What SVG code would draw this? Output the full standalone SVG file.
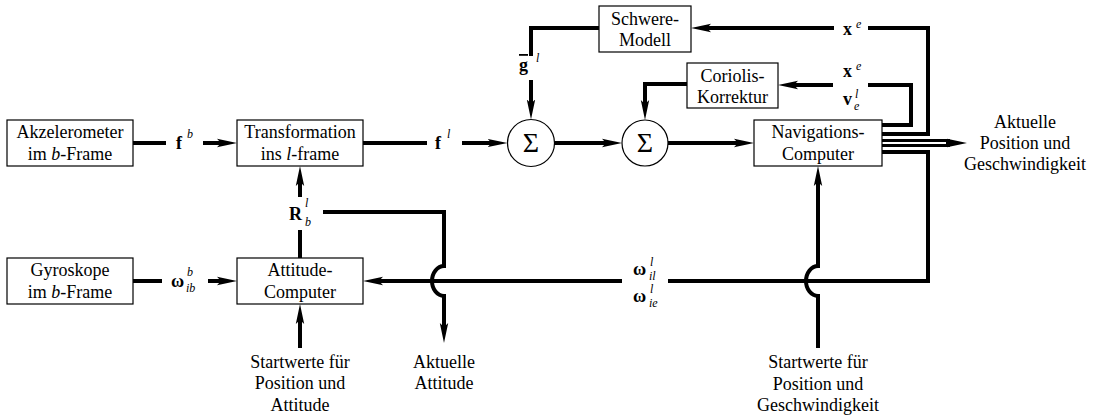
<svg xmlns="http://www.w3.org/2000/svg" width="1100" height="418" viewBox="0 0 1100 418">
<defs>
<marker id="arr" viewBox="0 0 20 10" markerWidth="20" markerHeight="10" markerUnits="userSpaceOnUse" refX="8" refY="5" orient="auto">
<path d="M0,0.8 L20,5 L0,9.2 L4,5 z" fill="#000"/>
</marker>
<style>
.box{fill:#fff;stroke:#000;stroke-width:1.2}
.sum{fill:#fff;stroke:#000;stroke-width:1.2}
.w{fill:none;stroke:#000;stroke-width:4;stroke-linejoin:miter}
.t{fill:none;stroke:#000;stroke-width:3}
.a{marker-end:url(#arr)}
.c{text-anchor:middle}
.b{font-weight:bold}
.i{font-style:italic;font-size:12px}
.it{font-style:italic}
.s{font-size:28px}
</style>
</defs>
<rect width="1100" height="418" fill="#fff"/>
<g id="connectors">
<path class="w" d="M133,143 H166"/>
<path class="w a" d="M203,143 H225"/>
<path class="w" d="M363,143 H427"/>
<path class="w a" d="M462,143 H495.5"/>
<path class="w a" d="M554.5,143 H610"/>
<path class="w a" d="M668,143 H742"/>
<path class="w" d="M599,28 H531 V56"/>
<path class="w a" d="M531,80 V107.5"/>
<path class="w a" d="M687,84 H645 V108"/>
<path class="w" d="M882,134 H928 V28 H868"/>
<path class="w a" d="M834,28 H703"/>
<path class="w" d="M882,125 H911 V85 H868"/>
<path class="w a" d="M833,85 H790"/>
<path class="t" d="M882,140.5 H950"/>
<path class="t" d="M882,145.5 H950"/>
<path class="w a" d="M946,143 H955"/>
<path class="w" d="M882,152 H928 V281 H668"/>
<path class="w a" d="M622,281 H375"/>
<path class="w a" d="M818,348 V296 A12,15 0 0 1 818,266 V178"/>
<path class="w a" d="M323,212 H444 V266 A12,15 0 0 0 444,296 V331"/>
<path class="w a" d="M300,197 V178"/>
<path class="w" d="M300,258 V230"/>
<path class="w" d="M133,281 H162"/>
<path class="w a" d="M208,281 H225"/>
<path class="w a" d="M300,348 V316"/>
</g>
<g id="labels">
<text font-family="Liberation Serif" font-size="18" x="176" y="149" class="b">f</text><text font-family="Liberation Serif" font-size="12" x="187" y="138" class="i">b</text>
<text font-family="Liberation Serif" font-size="18" x="435" y="149" class="b">f</text><text font-family="Liberation Serif" font-size="12" x="447" y="138" class="i">l</text>
<text font-family="Liberation Serif" font-size="18" x="519" y="71" class="b" text-decoration="overline">g</text><text font-family="Liberation Serif" font-size="12" x="536" y="62" class="i">l</text>
<text font-family="Liberation Serif" font-size="18" x="289" y="220" class="b">R</text><text font-family="Liberation Serif" font-size="12" x="305" y="207" class="i">l</text><text font-family="Liberation Serif" font-size="12" x="305" y="226" class="i">b</text>
<text font-family="Liberation Serif" font-size="18" x="171" y="287" class="b">ω</text><text font-family="Liberation Serif" font-size="12" x="187" y="276" class="i">b</text><text font-family="Liberation Serif" font-size="12" x="186" y="292" class="i">ib</text>
<text font-family="Liberation Serif" font-size="18" x="633" y="275" class="b">ω</text><text font-family="Liberation Serif" font-size="12" x="650" y="266" class="i">l</text><text font-family="Liberation Serif" font-size="12" x="649" y="280" class="i">il</text>
<text font-family="Liberation Serif" font-size="18" x="633" y="302" class="b">ω</text><text font-family="Liberation Serif" font-size="12" x="650" y="293" class="i">l</text><text font-family="Liberation Serif" font-size="12" x="649" y="307" class="i">ie</text>
<text font-family="Liberation Serif" font-size="18" x="843" y="35" class="b">x</text><text font-family="Liberation Serif" font-size="12" x="856" y="28" class="i">e</text>
<text font-family="Liberation Serif" font-size="18" x="843" y="77" class="b">x</text><text font-family="Liberation Serif" font-size="12" x="856" y="70" class="i">e</text>
<text font-family="Liberation Serif" font-size="18" x="843" y="105" class="b">v</text><text font-family="Liberation Serif" font-size="12" x="855" y="98" class="i">l</text><text font-family="Liberation Serif" font-size="12" x="854" y="110" class="i">e</text>
<text font-family="Liberation Serif" font-size="18" x="1025" y="128" class="c">Aktuelle</text>
<text font-family="Liberation Serif" font-size="18" x="1025" y="149" class="c">Position und</text>
<text font-family="Liberation Serif" font-size="18" x="1025" y="170" class="c">Geschwindigkeit</text>
<text font-family="Liberation Serif" font-size="18" x="300" y="368" class="c">Startwerte für</text>
<text font-family="Liberation Serif" font-size="18" x="300" y="389" class="c">Position und</text>
<text font-family="Liberation Serif" font-size="18" x="300" y="411" class="c">Attitude</text>
<text font-family="Liberation Serif" font-size="18" x="444" y="368" class="c">Aktuelle</text>
<text font-family="Liberation Serif" font-size="18" x="444" y="389" class="c">Attitude</text>
<text font-family="Liberation Serif" font-size="18" x="818" y="368" class="c">Startwerte für</text>
<text font-family="Liberation Serif" font-size="18" x="818" y="390" class="c">Position und</text>
<text font-family="Liberation Serif" font-size="18" x="818" y="411" class="c">Geschwindigkeit</text>
</g>
<g id="akzelerometer">
<rect class="box" x="7" y="120" width="126" height="46"/>
<text font-family="Liberation Serif" font-size="18" x="70" y="138" class="c">Akzelerometer</text>
<text font-family="Liberation Serif" font-size="18" x="70" y="160" class="c">im <tspan class="it">b</tspan>-Frame</text>
</g>
<g id="transformation">
<rect class="box" x="237" y="120" width="126" height="46"/>
<text font-family="Liberation Serif" font-size="18" x="300" y="138" class="c">Transformation</text>
<text font-family="Liberation Serif" font-size="18" x="300" y="160" class="c">ins <tspan class="it">l</tspan>-frame</text>
</g>
<g id="gyroskope">
<rect class="box" x="7" y="258" width="126" height="46"/>
<text font-family="Liberation Serif" font-size="18" x="70" y="276" class="c">Gyroskope</text>
<text font-family="Liberation Serif" font-size="18" x="70" y="298" class="c">im <tspan class="it">b</tspan>-Frame</text>
</g>
<g id="attitude">
<rect class="box" x="237" y="258" width="126" height="46"/>
<text font-family="Liberation Serif" font-size="18" x="300" y="276" class="c">Attitude-</text>
<text font-family="Liberation Serif" font-size="18" x="300" y="298" class="c">Computer</text>
</g>
<g id="schwere">
<rect class="box" x="599" y="6" width="92" height="46"/>
<text font-family="Liberation Serif" font-size="18" x="645" y="25" class="c">Schwere-</text>
<text font-family="Liberation Serif" font-size="18" x="645" y="46" class="c">Modell</text>
</g>
<g id="coriolis">
<rect class="box" x="687" y="63" width="91" height="45"/>
<text font-family="Liberation Serif" font-size="18" x="732.5" y="82" class="c">Coriolis-</text>
<text font-family="Liberation Serif" font-size="18" x="732.5" y="103" class="c">Korrektur</text>
</g>
<g id="navigation">
<rect class="box" x="754" y="120" width="128" height="46"/>
<text font-family="Liberation Serif" font-size="18" x="818" y="138" class="c">Navigations-</text>
<text font-family="Liberation Serif" font-size="18" x="818" y="160" class="c">Computer</text>
</g>
<g id="sum1">
<circle class="sum" cx="531" cy="143" r="23.5"/>
<text font-family="Liberation Serif" x="531" y="152" class="c s">Σ</text>
</g>
<g id="sum2">
<circle class="sum" cx="645" cy="143" r="23"/>
<text font-family="Liberation Serif" x="645" y="152" class="c s">Σ</text>
</g>
</svg>
